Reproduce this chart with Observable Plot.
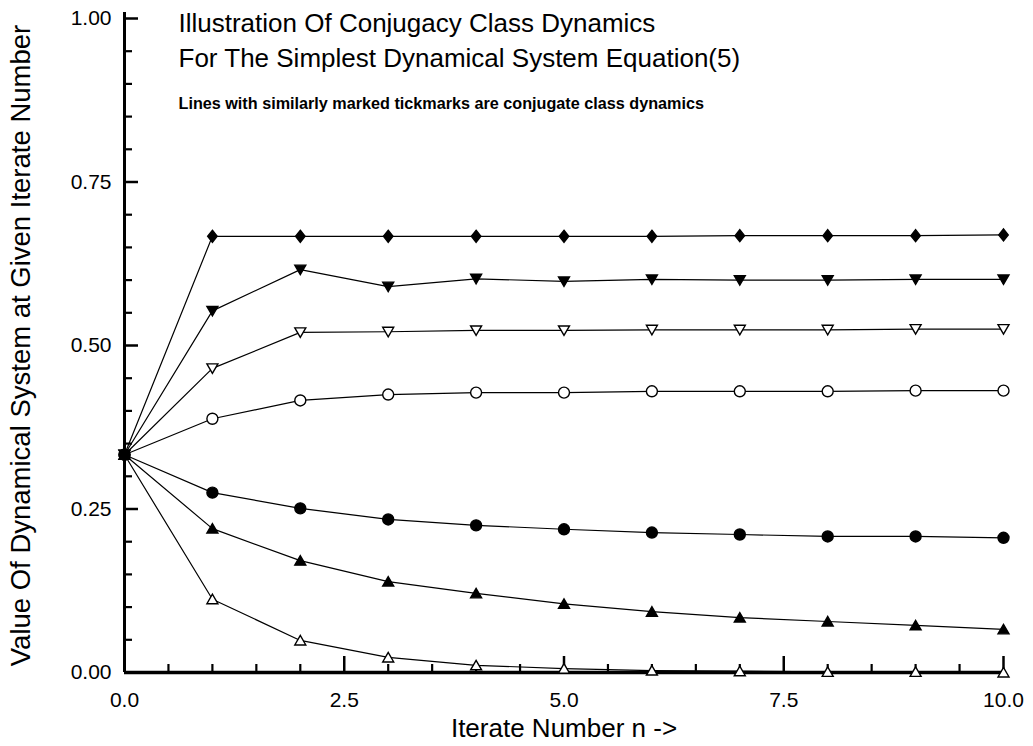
<!DOCTYPE html>
<html><head><meta charset="utf-8">
<script src="https://cdn.jsdelivr.net/npm/d3@7"></script>
<script src="https://cdn.jsdelivr.net/npm/@observablehq/plot@0.6"></script>
<style>
html,body{margin:0;padding:0;background:#fff}
#chart svg{display:block}
</style>
</head><body><div id="chart"></div>
<script>
// ---- data ----
const iterates = [0, 1, 2, 3, 4, 5, 6, 7, 8, 9, 10];
const diamondFilled = [0.333, 0.667, 0.667, 0.667, 0.667, 0.667, 0.667, 0.668, 0.668, 0.668, 0.669];
const triangleDownFilled = [0.333, 0.553, 0.616, 0.590, 0.602, 0.598, 0.601, 0.600, 0.600, 0.601, 0.601];
const triangleDownOpen = [0.333, 0.465, 0.520, 0.521, 0.523, 0.523, 0.524, 0.524, 0.524, 0.525, 0.525];
const circleOpen = [0.333, 0.388, 0.416, 0.425, 0.428, 0.428, 0.430, 0.430, 0.430, 0.431, 0.431];
const circleFilled = [0.333, 0.275, 0.251, 0.234, 0.225, 0.219, 0.214, 0.211, 0.208, 0.208, 0.206];
const triangleUpFilled = [0.333, 0.220, 0.171, 0.139, 0.121, 0.105, 0.093, 0.084, 0.078, 0.072, 0.066];
const triangleUpOpen = [0.333, 0.112, 0.049, 0.023, 0.011, 0.006, 0.003, 0.002, 0.001, 0.001, 0.000];

const yMajorTicks = [0, 0.25, 0.5, 0.75, 1];
const yMinorTicks = [0.05, 0.1, 0.15, 0.2, 0.3, 0.35, 0.4, 0.45, 0.55, 0.6, 0.65, 0.7, 0.8, 0.85, 0.9, 0.95];
const xMajorTicks = [0, 2.5, 5, 7.5, 10];
const xMinorTicks = [0.5, 1, 1.5, 2, 3, 3.5, 4, 4.5, 5.5, 6, 6.5, 7, 8, 8.5, 9, 9.5];

const title1 = "Illustration Of Conjugacy Class Dynamics";
const title2 = "For The Simplest Dynamical System Equation(5)";
const note = "Lines with similarly marked tickmarks are conjugate class dynamics";
const xLabel = "Iterate Number n ->";
const yLabel = "Value Of Dynamical System at Given Iterate Number";

// ---- layout / style ----
const W = 1033, H = 746;
const ML = 124, MR = 30, MT = 18, MB = 74;
const FW = W - ML - MR, FH = H - MT - MB;

function poly(pts) {
  return {draw(ctx, size) {
    const s = Math.sqrt(size / Math.PI);
    ctx.moveTo(pts[0][0] * s, pts[0][1] * s);
    for (let i = 1; i < pts.length; i++) ctx.lineTo(pts[i][0] * s, pts[i][1] * s);
    ctx.closePath();
  }};
}
const diamondSym = poly([[0, -1.2], [0.95, 0], [0, 1.2], [-0.95, 0]]);
const triDownSym = poly([[-1.1, -0.9], [1.1, -0.9], [0, 1.0]]);
const triUpSym = poly([[-1.1, 0.9], [1.1, 0.9], [0, -1.0]]);

const series = [
  {key: "diamondFilled", values: diamondFilled, symbol: diamondSym, fill: "black", r: 5},
  {key: "triangleDownFilled", values: triangleDownFilled, symbol: triDownSym, fill: "black", r: 5},
  {key: "triangleDownOpen", values: triangleDownOpen, symbol: triDownSym, fill: "white", r: 5},
  {key: "circleOpen", values: circleOpen, symbol: "circle", fill: "white", r: 5.5},
  {key: "triangleUpFilled", values: triangleUpFilled, symbol: triUpSym, fill: "black", r: 5},
  {key: "triangleUpOpen", values: triangleUpOpen, symbol: triUpSym, fill: "white", r: 5},
  {key: "circleFilled", values: circleFilled, symbol: "circle", fill: "black", r: 5.5}
];
const rows = series.flatMap(s => s.values.map((v, i) => ({series: s.key, n: iterates[i], v})));

const chart = Plot.plot({
  width: W, height: H,
  marginLeft: ML, marginRight: MR, marginTop: MT, marginBottom: MB,
  style: {fontFamily: "'Liberation Sans', Arial, Helvetica, sans-serif", color: "black", background: "white"},
  x: {domain: [0, 10], axis: null},
  y: {domain: [0, 1], axis: null},
  marks: [
    Plot.line(rows, {x: "n", y: "v", z: "series", stroke: "black", strokeWidth: 1.2}),
    Plot.tickY(yMajorTicks, {insetRight: FW - 14, stroke: "black", strokeWidth: 2.5}),
    Plot.tickY(yMinorTicks, {insetRight: FW - 8, stroke: "black", strokeWidth: 2.2}),
    Plot.tickX(xMajorTicks, {insetTop: FH - 16, stroke: "black", strokeWidth: 2.5}),
    Plot.tickX(xMinorTicks, {insetTop: FH - 8, stroke: "black", strokeWidth: 2.2}),
    Plot.ruleX([0], {stroke: "black", strokeWidth: 3, insetTop: -6}),
    Plot.ruleY([0], {stroke: "black", strokeWidth: 3.5}),
    Plot.axisY(yMajorTicks, {tickFormat: d3.format(".2f"), tickSize: 0, tickPadding: 13, fontSize: 21, label: null}),
    Plot.axisX(xMajorTicks, {tickFormat: d3.format(".1f"), tickSize: 0, tickPadding: 20, fontSize: 21, label: null}),
    ...series.map(s => Plot.dot(rows.filter(d => d.series === s.key), {
      x: "n", y: "v", symbol: s.symbol, r: s.r, fill: s.fill, stroke: "black", strokeWidth: 1.4
    })),
    Plot.text([xLabel], {frameAnchor: "bottom", textAnchor: "middle", lineAnchor: "top", dy: 46, fontSize: 26}),
    Plot.text([yLabel], {frameAnchor: "left", textAnchor: "middle", lineAnchor: "top", rotate: -90, dx: -114, fontSize: 27.5}),
    Plot.text([title1], {frameAnchor: "top-left", textAnchor: "start", lineAnchor: "top", dx: 54, dy: -5, fontSize: 26}),
    Plot.text([title2], {frameAnchor: "top-left", textAnchor: "start", lineAnchor: "top", dx: 54, dy: 30, fontSize: 26}),
    Plot.text([note], {frameAnchor: "top-left", textAnchor: "start", lineAnchor: "top", dx: 54, dy: 79, fontSize: 16.2, fontWeight: "bold"})
  ]
});
document.getElementById("chart").appendChild(chart);
</script>
</body></html>
